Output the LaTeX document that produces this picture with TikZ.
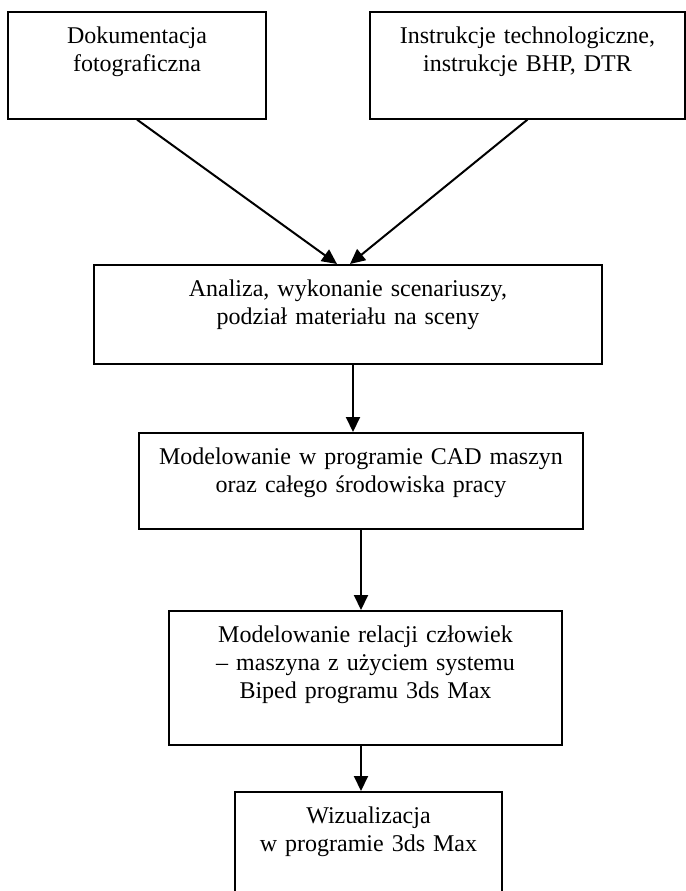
\documentclass[tikz,border=0pt]{standalone}
\usepackage{fontspec}
\setmainfont{Liberation Serif}
\usetikzlibrary{arrows.meta}

\begin{document}
\begin{tikzpicture}
    [%%%%%%%%%%%%%%%%%%%%%%%%%%%%%%
        x=0.5pt,y=-0.5pt,
        box/.style={rectangle,draw=black,line width=0.8pt,inner sep=0pt,anchor=north,align=center,text height=16pt,font=\fontsize{12}{14}\selectfont},
        arrow/.style={-{Triangle[length=7.5pt,width=7pt]},line width=1pt},
    ]%%%%%%%%%%%%%%%%%%%%%%%%%%%%%%

\useasboundingbox (0,0) rectangle (686,891);

  \node[box, text width=129pt, text depth=37.5pt] (dok) at (137,11) {Dokumentacja\\fotograficzna};
  \node[box, text width=157.5pt, text depth=37.5pt] (instr) at (527.5,11) {Instrukcje technologiczne,\\instrukcje BHP, DTR};

  \node[box, text width=254pt, text depth=33.5pt] (analiza) at (348,264) {Analiza, wykonanie scenariuszy,\\podział materiału na sceny};
  \node[box, text width=222pt, text depth=32pt] (cad) at (361,432) {Modelowanie w programie CAD maszyn\\oraz całego środowiska pracy};
  \node[box, text width=196.5pt, text depth=51pt] (biped) at (365.5,610) {Modelowanie relacji człowiek\\-- maszyna z użyciem systemu\\Biped programu 3ds Max};
  \node[box, text width=133.5pt, text depth=44pt] (wiz) at (368.5,791) {Wizualizacja\\w programie 3ds Max};

\draw[arrow] (dok.south) -- ([xshift=-5.5pt]analiza.north);
\draw[arrow] (instr.south) -- ([xshift=1pt]analiza.north);

\draw[arrow] ([xshift=2.5pt]analiza.south) -- ([xshift=2.5pt]analiza.south |- cad.north);
\draw[arrow] (cad.south) -- (cad.south |- biped.north);
\draw[arrow] (cad.south |- biped.south) -- (cad.south |- wiz.north);
\end{tikzpicture}
\end{document}
